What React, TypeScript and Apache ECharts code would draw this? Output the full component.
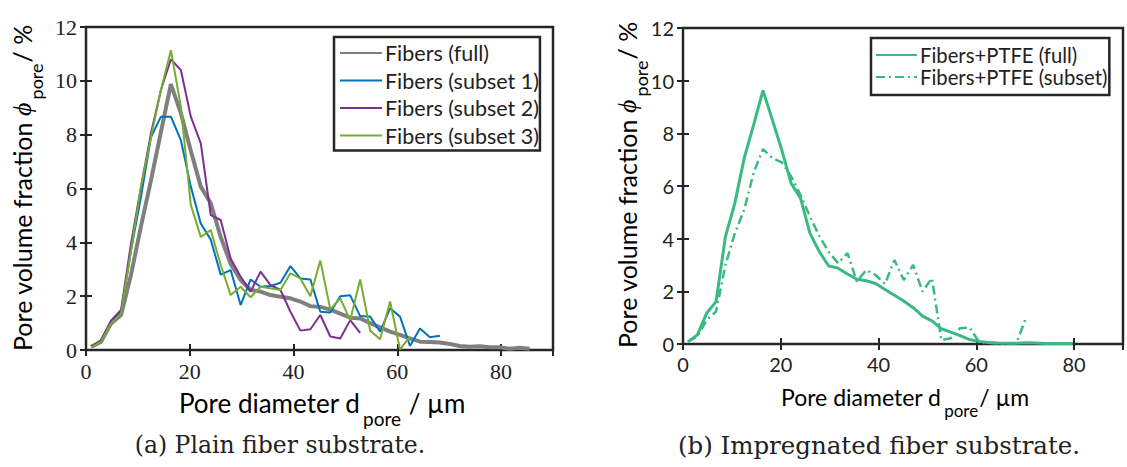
import React, { useEffect, useRef } from "react";
import * as echarts from "echarts";

// Pore diameter bin centres (µm)
const diameters = [1.00, 2.92, 4.84, 6.76, 8.68, 10.60, 12.52, 14.44, 16.36, 18.28, 20.20, 22.12, 24.04, 25.96, 27.88, 29.80, 31.72, 33.64, 35.56, 37.48, 39.40, 41.32, 43.24, 45.16, 47.08, 49.00, 50.92, 52.84, 54.76, 56.68, 58.60, 60.52, 62.44, 64.36, 66.28, 68.20, 70.12, 72.04, 73.96, 75.88, 77.80, 79.72, 81.64, 83.56, 85.48];

// (a) plain fiber substrate
const fibersFull = [0.12, 0.31, 0.99, 1.3, 2.8, 4.6, 6.3, 8.1, 9.88, 8.8, 7.4, 6.07, 5.45, 4.2, 3.2, 2.6, 2.23, 2.17, 2.04, 1.98, 1.92, 1.8, 1.63, 1.6, 1.5, 1.35, 1.2, 1.17, 1.0, 0.84, 0.68, 0.56, 0.43, 0.31, 0.3, 0.28, 0.22, 0.15, 0.12, 0.14, 0.1, 0.1, 0.05, 0.08, 0.05];
const fibersSubset1 = [0.12, 0.3, 1.05, 1.42, 3.7, 5.7, 7.9, 8.67, 8.67, 7.8, 6.07, 4.7, 4.1, 2.8, 2.97, 1.67, 2.62, 2.35, 2.38, 2.5, 3.12, 2.66, 2.62, 1.42, 1.39, 2.0, 2.03, 1.26, 1.24, 0.68, 1.55, 1.24, 0.15, 0.8, 0.47, 0.53];
const fibersSubset2 = [0.12, 0.37, 1.1, 1.49, 3.96, 6.07, 8.05, 9.66, 10.8, 10.4, 8.67, 7.68, 5.01, 4.83, 3.4, 2.72, 2.17, 2.91, 2.41, 2.23, 1.42, 0.72, 0.77, 1.3, 0.5, 0.43, 1.11, 0.64];
const fibersSubset3 = [0.1, 0.31, 0.99, 1.36, 3.7, 6.07, 7.9, 9.66, 11.14, 9.04, 5.39, 4.2, 4.46, 3.16, 2.04, 2.35, 1.96, 2.35, 2.29, 2.23, 2.85, 2.66, 2.0, 3.32, 1.51, 1.92, 1.11, 2.62, 0.72, 0.4, 1.8, 0.02, 0.5];

// (b) impregnated fiber substrate
const ptfeFull = [0.09, 0.34, 1.17, 1.61, 4.08, 5.35, 7.06, 8.32, 9.63, 8.51, 7.37, 6.1, 5.54, 4.21, 3.51, 2.96, 2.88, 2.66, 2.46, 2.4, 2.3, 2.07, 1.85, 1.63, 1.38, 1.06, 0.88, 0.58, 0.45, 0.32, 0.17, 0.1, 0.06, 0.04, 0.03, 0.03, 0.05, 0.04, 0.02, 0.02, 0.02, 0.02];
const ptfeSubset = [0.09, 0.28, 0.91, 1.23, 3.0, 4.2, 5.1, 6.5, 7.4, 7.06, 6.9, 6.36, 5.66, 4.84, 4.1, 3.5, 3.07, 3.45, 2.37, 2.81, 2.62, 2.28, 3.19, 2.43, 3.0, 1.99, 2.5, 0.15, 0.22, 0.6, 0.63, 0.09, 0.05, 0.03, 0.03, 0.03, 0.98];

const xTicks = [0, 20, 40, 60, 80];
const yTicks = [0, 2, 4, 6, 8, 10, 12];

const pairs = (vals: number[]) => vals.map((v, i) => [diameters[i], v]);

const FRAME = "#262626";
const SANS = "Lato";
const SERIF = "Liberation Serif";
const CAPTION = "DejaVu Serif";

function xAxisCfg(gridIndex: number, top: boolean, font: string, size: number) {
  return {
    type: "value",
    gridIndex,
    position: top ? "top" : "bottom",
    min: xTicks[0],
    max: 90,
    interval: xTicks[1] - xTicks[0],
    axisLine: { show: false },
    splitLine: { show: false },
    axisTick: { show: true, inside: true, length: 6, lineStyle: { color: FRAME, width: 2 } },
    axisLabel: {
      show: !top,
      showMaxLabel: false,
      margin: 10,
      color: "#222",
      fontFamily: font,
      fontSize: size,
    },
  };
}

function yAxisCfg(gridIndex: number, right: boolean, font: string, size: number) {
  return {
    type: "value",
    gridIndex,
    position: right ? "right" : "left",
    min: yTicks[0],
    max: yTicks[yTicks.length - 1],
    interval: yTicks[1] - yTicks[0],
    axisLine: { show: false },
    splitLine: { show: false },
    axisTick: { show: true, inside: true, length: 6, lineStyle: { color: FRAME, width: 2 } },
    axisLabel: {
      show: !right,
      margin: 9,
      color: "#222",
      fontFamily: font,
      fontSize: size,
    },
  };
}

function line(name: string, vals: number[], color: string, width: number, xi: number, yi: number, type: any = "solid") {
  return {
    type: "line",
    name,
    data: pairs(vals),
    xAxisIndex: xi,
    yAxisIndex: yi,
    symbol: "none",
    showSymbol: false,
    color,
    lineStyle: { color, width, type },
  };
}

function titleRich(size: number, subDrop: number) {
  const sub = Math.round(size * 0.72);
  return {
    a: { fontFamily: SANS, fontSize: size, lineHeight: size + 2, verticalAlign: "top", color: "#222" },
    f: { fontFamily: SERIF, fontStyle: "italic", fontSize: size + 1, lineHeight: size + 2, verticalAlign: "top", color: "#222" },
    s: { fontFamily: SANS, fontSize: sub, lineHeight: sub, padding: [subDrop, 1, 0, 3], verticalAlign: "top", color: "#222" },
  };
}

const legendBase = {
  orient: "vertical",
  itemWidth: 42,
  itemHeight: 14,
  borderColor: FRAME,
  borderWidth: 2.5,
  backgroundColor: "#fff",
  itemStyle: { opacity: 0, borderWidth: 0 },
  textStyle: { fontFamily: SANS, fontSize: 21.5, lineHeight: 20, color: "#222", padding: [0, 0, 0, -2] },
};

export default function App() {
  const ref = useRef<HTMLDivElement>(null);
  useEffect(() => {
    if (!ref.current) return;
    const chart = echarts.init(ref.current, undefined, { renderer: "svg" });
    const green = "#3bb984";
    chart.setOption({
      animation: false,
      backgroundColor: "#ffffff",
      grid: [
        { left: 86, top: 27, width: 467, height: 323, show: true, borderColor: FRAME, borderWidth: 2.5, backgroundColor: "transparent" },
        { left: 683, top: 28, width: 440, height: 316, show: true, borderColor: FRAME, borderWidth: 2.5, backgroundColor: "transparent" },
      ],
      xAxis: [
        xAxisCfg(0, false, SERIF, 22),
        xAxisCfg(0, true, SERIF, 22),
        xAxisCfg(1, false, SANS, 20),
        xAxisCfg(1, true, SANS, 20),
      ],
      yAxis: [
        yAxisCfg(0, false, SERIF, 22),
        yAxisCfg(0, true, SERIF, 22),
        yAxisCfg(1, false, SANS, 20),
        yAxisCfg(1, true, SANS, 20),
      ],
      legend: [
        {
          ...legendBase,
          data: ["Fibers (full)", "Fibers (subset 1)", "Fibers (subset 2)", "Fibers (subset 3)"],
          left: 334,
          top: 37,
          padding: [5, 1, 4, 5],
          itemGap: 5.5,
        },
        {
          ...legendBase,
          data: ["Fibers+PTFE (full)", "Fibers+PTFE (subset)"],
          left: 871,
          top: 38,
          padding: [7, 2, 8, 4],
          itemGap: 2,
          itemWidth: 41,
          textStyle: { ...legendBase.textStyle, fontSize: 20.3 },
        },
      ],
      series: [
        line("Fibers (full)", fibersFull, "#7f7f7f", 4, 0, 0),
        line("Fibers (subset 1)", fibersSubset1, "#0072BD", 2, 0, 0),
        line("Fibers (subset 2)", fibersSubset2, "#7E2F8E", 2, 0, 0),
        line("Fibers (subset 3)", fibersSubset3, "#77AC30", 2, 0, 0),
        line("Fibers+PTFE (full)", ptfeFull, green, 3, 2, 2),
        line("Fibers+PTFE (subset)", ptfeSubset, green, 2.5, 2, 2, [9, 4, 2, 4]),
      ],
      graphic: [
        {
          type: "text",
          x: 23,
          y: 188,
          rotation: Math.PI / 2,
          style: {
            text: "{a|Pore volume fraction }{f|ϕ}{s|pore}{a|/ %}",
            rich: titleRich(25, 17),
            align: "center",
            verticalAlign: "middle",
          },
        },
        {
          type: "text",
          x: 628,
          y: 185,
          rotation: Math.PI / 2,
          style: {
            text: "{a|Pore volume fraction }{f|ϕ}{s|pore}{a|/ %}",
            rich: titleRich(25, 17),
            align: "center",
            verticalAlign: "middle",
          },
        },
        {
          type: "text",
          x: 322,
          y: 390,
          style: {
            text: "{a|Pore diameter d}{s|pore}{a| / µm}",
            rich: titleRich(26, 19),
            align: "center",
            verticalAlign: "top",
          },
        },
        {
          type: "text",
          x: 905,
          y: 385,
          style: {
            text: "{a|Pore diameter d}{s|pore}{a|/ µm}",
            rich: titleRich(23, 17),
            align: "center",
            verticalAlign: "top",
          },
        },
        {
          type: "text",
          x: 280,
          y: 445,
          style: {
            text: "(a) Plain fiber substrate.",
            fontFamily: CAPTION,
            fontSize: 23.5,
            fill: "#222",
            align: "center",
            verticalAlign: "middle",
          },
        },
        {
          type: "text",
          x: 879,
          y: 445,
          style: {
            text: "(b) Impregnated fiber substrate.",
            fontFamily: CAPTION,
            fontSize: 24.5,
            fill: "#222",
            align: "center",
            verticalAlign: "middle",
          },
        },
      ],
    });
    return () => chart.dispose();
  }, []);
  return <div ref={ref} style={{ position: "absolute", left: 0, top: 0, width: 1127, height: 467 }} />;
}
